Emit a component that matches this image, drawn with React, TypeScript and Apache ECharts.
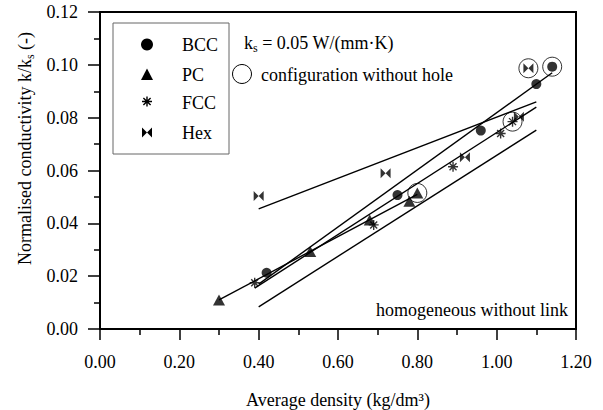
import React, { useEffect, useRef } from "react";
import * as echarts from "echarts";

// ---------- data ----------
const bccX = [0.42, 0.75, 0.96, 1.10, 1.14];
const bccY = [0.0213, 0.0507, 0.0751, 0.0927, 0.0993];
const pcX = [0.30, 0.53, 0.68, 0.78, 0.80];
const pcY = [0.011, 0.0293, 0.0413, 0.0484, 0.0515];
const fccX = [0.39, 0.69, 0.89, 1.01, 1.04];
const fccY = [0.0175, 0.0394, 0.0614, 0.074, 0.0785];
const hexX = [0.40, 0.72, 0.92, 1.056, 1.08];
const hexY = [0.0503, 0.059, 0.065, 0.0803, 0.0987];
// configurations without hole (ringed points)
const ringX = [0.80, 1.04, 1.08, 1.14];
const ringY = [0.0515, 0.0785, 0.0987, 0.0993];
// fitted lines (end points)
const hexFitX = [0.40, 1.10];
const hexFitY = [0.0455, 0.086];
const bccFitX = [0.40, 1.14];
const bccFitY = [0.017, 0.097];
const pcFitX = [0.30, 0.80];
const pcFitY = [0.011, 0.051];
const fccFitX = [0.39, 1.10];
const fccFitY = [0.0155, 0.084];
const homFitX = [0.40, 1.10];
const homFitY = [0.0084, 0.0753];

const xTicks = [0, 0.2, 0.4, 0.6, 0.8, 1.0, 1.2];
const yTicks = [0, 0.02, 0.04, 0.06, 0.08, 0.1, 0.12];
const legendNames = ["BCC", "PC", "FCC", "Hex"];

const FONT = "Liberation Serif";
const STAR_PATH = "path://M5,0L5,10M0,5L10,5M1.5,1.5L8.5,8.5M8.5,1.5L1.5,8.5";
const BOW_PATH = "path://M0,0L5,5L0,10ZM10,0L5,5L10,10Z";

try {
  echarts.graphic.registerShape(
    "fccStar",
    echarts.graphic.extendPath("M0,-5L0,5M-5,0L5,0M-3.6,-3.6L3.6,3.6M3.6,-3.6L-3.6,3.6", {})
  );
} catch (e) {}

const pairs = (xs: number[], ys: number[]) => xs.map((x, i) => [x, ys[i]]);

const measure = (t: string, size: number) => {
  const c = document.createElement("canvas").getContext("2d");
  if (!c) return t.length * size * 0.5;
  c.font = `${size}px "Liberation Serif"`;
  return c.measureText(t).width;
};

export default function App() {
  const ref = useRef<HTMLDivElement>(null);
  useEffect(() => {
    if (!ref.current) return;
    const chart = echarts.init(ref.current, undefined, { renderer: "svg" });
    const lineS = (xs: number[], ys: number[]) => ({
      type: "line",
      data: pairs(xs, ys),
      symbol: "none",
      silent: true,
      lineStyle: { color: "#000", width: 1.4 },
      z: 2,
    });

    // y axis name pieces
    const p1 = "Normalised conductivity k/k";
    const p2 = "s";
    const p3 = " (-)";
    const w1 = measure(p1, 18);
    const w2 = measure(p2, 12);
    const w3 = measure(p3, 18);
    const start = -(w1 + w2 + w3) / 2;

    const kW = measure("k", 18);
    const sW = measure("s", 12);

    const txt = (x: number, y: number, text: string, size = 18, align = "left") => ({
      type: "text",
      x,
      y,
      style: {
        text,
        fill: "#000",
        fontFamily: FONT,
        fontSize: size,
        align,
        verticalAlign: "middle",
      },
      z: 10,
    });

    const legendYs = [45, 75, 103, 132.5];

    chart.setOption({
      animation: false,
      textStyle: { fontFamily: FONT },
      grid: {
        left: 100,
        right: 27,
        top: 12,
        bottom: 81,
        containLabel: false,
        outerBoundsMode: "none",
        show: true,
        borderColor: "#000",
        borderWidth: 2,
      },
      xAxis: {
        type: "value",
        min: xTicks[0],
        max: xTicks[xTicks.length - 1],
        interval: 0.2,
        name: "Average density (kg/dm³)",
        nameLocation: "middle",
        nameGap: 62,
        nameTextStyle: { fontFamily: FONT, fontSize: 18, color: "#000" },
        axisLine: { lineStyle: { color: "#000", width: 2 } },
        axisTick: { length: 11, lineStyle: { color: "#000", width: 1.5 } },
        minorTick: { show: true, splitNumber: 2, length: 6, lineStyle: { color: "#000", width: 1.5 } },
        splitLine: { show: false },
        axisLabel: {
          margin: 24,
          fontFamily: FONT,
          fontSize: 18,
          color: "#000",
          formatter: (v: number) => v.toFixed(2),
        },
      },
      yAxis: {
        type: "value",
        min: yTicks[0],
        max: yTicks[yTicks.length - 1],
        interval: 0.02,
        axisLine: { lineStyle: { color: "#000", width: 2 } },
        axisTick: { length: 12, lineStyle: { color: "#000", width: 1.5 } },
        minorTick: { show: true, splitNumber: 2, length: 6, lineStyle: { color: "#000", width: 1.5 } },
        splitLine: { show: false },
        axisLabel: {
          margin: 22,
          fontFamily: FONT,
          fontSize: 18,
          color: "#000",
          formatter: (v: number) => v.toFixed(2),
        },
      },
      series: [
        lineS(hexFitX, hexFitY),
        lineS(bccFitX, bccFitY),
        lineS(pcFitX, pcFitY),
        lineS(fccFitX, fccFitY),
        lineS(homFitX, homFitY),
        {
          type: "scatter",
          name: legendNames[0],
          data: pairs(bccX, bccY),
          symbol: "circle",
          symbolSize: 10,
          itemStyle: { color: "#000" },
          z: 3,
        },
        {
          type: "scatter",
          name: legendNames[1],
          data: pairs(pcX, pcY),
          symbol: "triangle",
          symbolSize: [12, 11],
          itemStyle: { color: "#000" },
          z: 3,
        },
        {
          type: "scatter",
          name: legendNames[2],
          data: pairs(fccX, fccY),
          symbol: STAR_PATH,
          symbolSize: 10,
          itemStyle: { color: "none", borderColor: "#000", borderWidth: 1.4 },
          z: 3,
        },
        {
          type: "scatter",
          name: legendNames[3],
          data: pairs(hexX, hexY),
          symbol: BOW_PATH,
          symbolSize: 10,
          itemStyle: { color: "#000" },
          z: 3,
        },
        {
          type: "scatter",
          data: pairs(ringX, ringY),
          symbol: "circle",
          symbolSize: 19,
          itemStyle: { color: "none", borderColor: "#000", borderWidth: 1 },
          z: 4,
        },
      ],
      graphic: {
        elements: [
          // legend box
          {
            type: "rect",
            shape: { x: 113, y: 23, width: 116, height: 131 },
            style: { fill: "none", stroke: "#666", lineWidth: 1 },
            z: 10,
          },
          { type: "circle", shape: { cx: 147, cy: 44.5, r: 6 }, style: { fill: "#000" }, z: 10 },
          {
            type: "polygon",
            shape: { points: [[141, 80], [153, 80], [147, 68.5]] },
            style: { fill: "#000" },
            z: 10,
          },
          {
            type: "fccStar",
            x: 147,
            y: 101.5,
            style: { fill: "none", stroke: "#000", lineWidth: 1.4 },
            z: 10,
          },
          {
            type: "polygon",
            shape: { points: [[142, 127.5], [147, 132.5], [142, 137.5]] },
            style: { fill: "#000" },
            z: 10,
          },
          {
            type: "polygon",
            shape: { points: [[152, 127.5], [147, 132.5], [152, 137.5]] },
            style: { fill: "#000" },
            z: 10,
          },
          ...legendNames.map((n, i) => txt(182, legendYs[i], n)),
          // ks annotation
          txt(244, 43, "k"),
          txt(244 + kW, 48, "s", 12),
          txt(244 + kW + sW, 43, " = 0.05 W/(mm·K)"),
          // ring annotation
          {
            type: "circle",
            shape: { cx: 242, cy: 74, r: 9.5 },
            style: { fill: "none", stroke: "#000", lineWidth: 1 },
            z: 10,
          },
          txt(261, 75, "configuration without hole"),
          txt(568, 310, "homogeneous without link", 18, "right"),
          // y axis name
          {
            type: "group",
            x: 25,
            y: 148.5,
            rotation: Math.PI / 2,
            children: [
              txt(start, 0, p1),
              txt(start + w1, 5, p2, 12),
              txt(start + w1 + w2, 0, p3),
            ],
          },
        ],
      },
    });
    return () => chart.dispose();
  }, []);
  return (
    <div
      ref={ref}
      style={{ position: "absolute", left: 0, top: 0, width: 603, height: 410 }}
    />
  );
}
